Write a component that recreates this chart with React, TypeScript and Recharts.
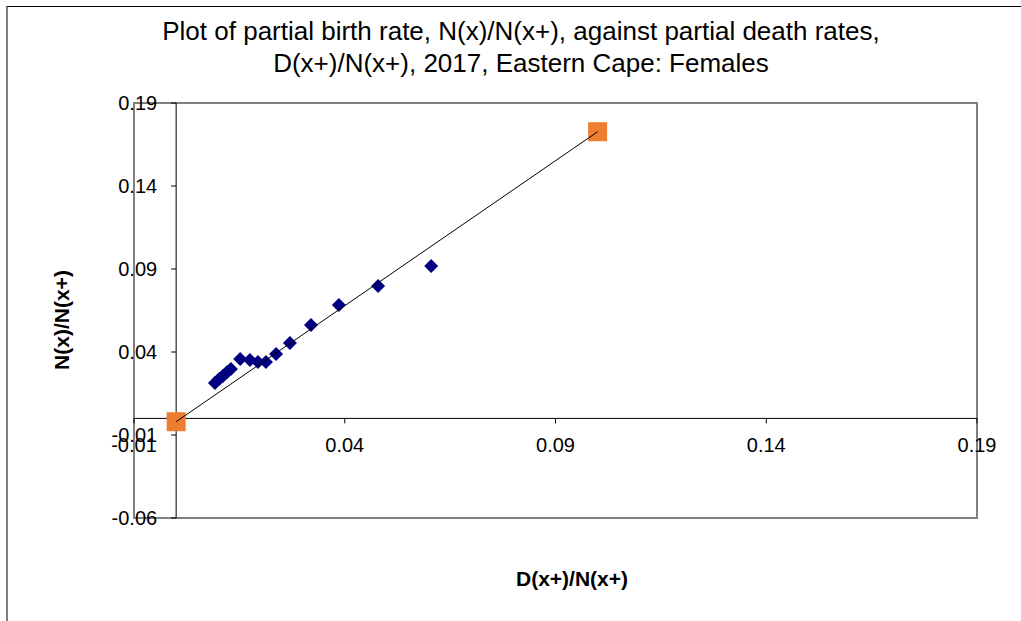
import React from "react";
import { ScatterChart, Scatter, XAxis, YAxis, ReferenceLine, ReferenceArea } from "recharts";

const deathRates = [0.0092, 0.0102, 0.0111, 0.0121, 0.013, 0.0152, 0.0175, 0.0194, 0.0213, 0.0237, 0.027, 0.032, 0.0386, 0.0479, 0.0605];
const birthRates = [0.0213, 0.0237, 0.0255, 0.028, 0.0298, 0.0358, 0.0352, 0.034, 0.034, 0.0388, 0.0454, 0.0563, 0.0683, 0.0798, 0.0918];
const fitX = [0, 0.1];
const fitY = [-0.002, 0.1727];
const xTicks = [-0.01, 0.04, 0.09, 0.14, 0.19];
const xTickLabels = ["-0.01", "0.04", "0.09", "0.14", "0.19"];
const yTicks = [-0.06, -0.01, 0.04, 0.09, 0.14, 0.19];
const yTickLabels = ["-0.06", "-0.01", "0.04", "0.09", "0.14", "0.19"];
const xDomain: [number, number] = [-0.01, 0.19];
const yDomain: [number, number] = [-0.06, 0.19];

const W = 1021;
const H = 621;
const PLOT = { top: 103, left: 134, right: 44, bottom: 103 };
const AXIS_SIZE = 30;
const M = { top: PLOT.top, left: PLOT.left - AXIS_SIZE, right: PLOT.right, bottom: PLOT.bottom - AXIS_SIZE };
const plotW = W - PLOT.left - PLOT.right;
const plotH = H - PLOT.top - PLOT.bottom;
const zeroX = PLOT.left + ((0 - xDomain[0]) / (xDomain[1] - xDomain[0])) * plotW;
const zeroY = PLOT.top + ((yDomain[1] - 0) / (yDomain[1] - yDomain[0])) * plotH;

const FONT = "'Liberation Sans', Arial, sans-serif";

const points = deathRates.map((x, i) => ({ x, y: birthRates[i] }));
const fitPoints = fitX.map((x, i) => ({ x, y: fitY[i] }));

const renderXTick = (props: any) => {
  const { x, payload, index } = props;
  const idx = xTicks.indexOf(payload.value);
  return (
    <g key={`xt-${index}`}>
      <line x1={x} x2={x} y1={zeroY} y2={zeroY + 5} stroke="#000" strokeWidth={1} />
      <text x={x} y={zeroY + 34} textAnchor="middle" fontSize={20} fontFamily={FONT} fill="#000">
        {idx >= 0 ? xTickLabels[idx] : String(payload.value)}
      </text>
    </g>
  );
};

const renderYTick = (props: any) => {
  const { y, payload, index } = props;
  const idx = yTicks.indexOf(payload.value);
  return (
    <g key={`yt-${index}`}>
      <line x1={zeroX - 5} x2={zeroX} y1={y} y2={y} stroke="#000" strokeWidth={1} />
      <text x={zeroX - 19} y={y + 7} textAnchor="end" fontSize={20} fontFamily={FONT} fill="#000">
        {idx >= 0 ? yTickLabels[idx] : String(payload.value)}
      </text>
    </g>
  );
};

const Diamond = (props: any) => {
  const { cx, cy } = props;
  const r = 7;
  return <polygon points={`${cx},${cy - r} ${cx + r},${cy} ${cx},${cy + r} ${cx - r},${cy}`} fill="#000080" />;
};

const OrangeSquare = (props: any) => {
  const { cx, cy } = props;
  const s = 19;
  return <rect x={cx - s / 2} y={cy - s / 2} width={s} height={s} fill="#ED7D31" />;
};

const NoShape = () => <g />;

export default function App() {
  return (
    <div style={{ position: "absolute", left: 0, top: 0, width: W, height: H, overflow: "hidden", background: "#fff", fontFamily: FONT }}>
      <div
        style={{
          position: "absolute",
          left: 6,
          top: 6,
          width: W,
          height: H,
          borderLeft: "2px solid #808080",
          borderTop: "1px solid #000",
        }}
      />
      <div
        style={{
          position: "absolute",
          left: 0,
          top: 15,
          width: 1042,
          textAlign: "center",
          fontSize: 26,
          lineHeight: "32px",
          color: "#000",
        }}
      >
        Plot of partial birth rate, N(x)/N(x+), against partial death rates,
        <br />
        D(x+)/N(x+), 2017, Eastern Cape: Females
      </div>
      <div
        style={{
          position: "absolute",
          left: 572 - 100,
          top: 567,
          width: 200,
          textAlign: "center",
          fontSize: 21,
          fontWeight: "bold",
          color: "#000",
        }}
      >
        D(x+)/N(x+)
      </div>
      <div
        style={{
          position: "absolute",
          left: 62 - 100,
          top: 320 - 12,
          width: 200,
          height: 24,
          lineHeight: "24px",
          textAlign: "center",
          fontSize: 21,
          fontWeight: "bold",
          color: "#000",
          transform: "rotate(-90deg)",
        }}
      >
        N(x)/N(x+)
      </div>
      <div style={{ position: "absolute", left: 0, top: 0 }}>
        <ScatterChart width={W} height={H} margin={M}>
          <XAxis
            type="number"
            dataKey="x"
            domain={xDomain}
            ticks={xTicks}
            interval={0}
            height={AXIS_SIZE}
            axisLine={false}
            tickLine={false}
            tick={renderXTick}
            allowDataOverflow
          />
          <YAxis
            type="number"
            dataKey="y"
            domain={yDomain}
            ticks={yTicks}
            interval={0}
            width={AXIS_SIZE}
            axisLine={false}
            tickLine={false}
            tick={renderYTick}
            allowDataOverflow
          />
          <ReferenceArea
            x1={xDomain[0]}
            x2={xDomain[1]}
            y1={yDomain[0]}
            y2={yDomain[1]}
            fill="none"
            stroke="#808080"
            strokeWidth={2}
            ifOverflow="visible"
          />
          <ReferenceLine x={0} stroke="#000" strokeWidth={1} />
          <ReferenceLine y={0} stroke="#000" strokeWidth={1} />
          <Scatter data={points} shape={<Diamond />} isAnimationActive={false} />
          <Scatter data={fitPoints} shape={<OrangeSquare />} isAnimationActive={false} />
          <Scatter data={fitPoints} shape={<NoShape />} line={{ stroke: "#000", strokeWidth: 1 }} isAnimationActive={false} />
        </ScatterChart>
      </div>
    </div>
  );
}
